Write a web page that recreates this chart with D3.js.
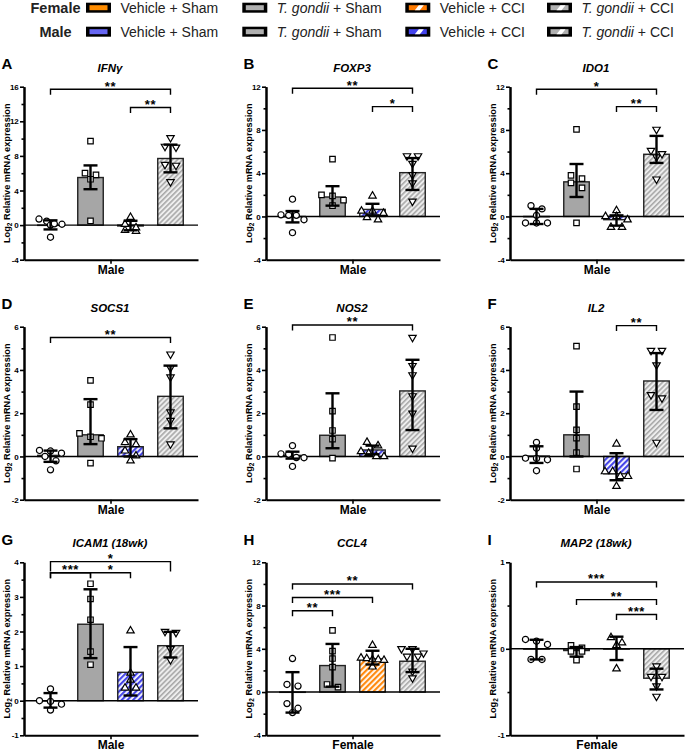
<!DOCTYPE html>
<html><head><meta charset="utf-8">
<script src="https://cdn.jsdelivr.net/npm/d3@7"></script>
<style>body{margin:0;background:#fff} svg{display:block} text{font-family:"Liberation Sans",Arial,sans-serif}</style>
</head><body><svg id="c" width="685" height="752"></svg>
<script>
const groups = ["Vehicle + Sham","T. gondii + Sham","Vehicle + CCI","T. gondii + CCI"];
const letters = ["A","B","C","D","E","F","G","H","I"];
const genes = ["IFNγ","FOXP3","IDO1","SOCS1","NOS2","IL2","ICAM1 (18wk)","CCL4","MAP2 (18wk)"];
const sexes = ["Male","Male","Male","Male","Male","Male","Male","Female","Female"];
const yDomains = [[-4,16],[-4,12],[-4,12],[-2,6],[-2,6],[-2,6],[-1,4],[-4,12],[-1,1]];
const yTickSteps = [4,4,4,2,2,2,1,4,1];
const means = [
  [0.0, 5.5, -0.1, 7.7],
  [0.0, 1.8, 0.65, 4.05],
  [0.0, 3.2, -0.3, 5.75],
  [0.05, 1.0, 0.45, 2.78],
  [0.05, 0.98, 0.3, 3.03],
  [0.02, 1.0, -0.8, 3.49],
  [0.0, 2.21, 0.82, 1.59],
  [0.0, 2.45, 3.07, 2.85],
  [0.0, -0.02, 0.0, -0.34]
];
const errLo = [
  [-0.5, 4.15, -0.6, 6.1],
  [-0.55, 1.0, 0.1, 2.45],
  [-0.7, 1.8, -0.85, 4.95],
  [-0.25, 0.57, 0.0, 1.3],
  [-0.1, 0.38, 0.1, 1.22],
  [-0.3, 0.0, -1.1, 2.15],
  [-0.2, 1.23, 0.15, 1.25],
  [-1.9, 0.5, 2.55, 1.85],
  [-0.123, -0.09, -0.13, -0.47]
];
const errHi = [
  [0.55, 6.9, 0.5, 9.3],
  [0.5, 2.8, 1.17, 5.4],
  [0.7, 4.85, 0.1, 7.45],
  [0.27, 2.65, 0.8, 4.2],
  [0.22, 2.92, 0.5, 4.47],
  [0.47, 3.0, 0.15, 4.78],
  [0.22, 3.22, 1.55, 1.99],
  [1.84, 4.45, 3.82, 4.0],
  [0.104, 0.02, 0.14, -0.23]
];
const points = [
  [[0.45, 0.7, 0.0, -1.4, 0.15, 0.1],[9.7, 6.0, 5.8, 5.3, 0.5],[-0.7, 0.9, -0.6, 0.1, -0.3],[10.1, 9.1, 9.0, 7.0, 6.9, 5.0]],
  [[1.6, 0.1, 0.15, -1.5, -0.3, 0.1],[5.3, 2.0, 1.9, 1.5, 1.0],[1.9, -0.3, -0.1, 0.3, 0.5, 0.5],[5.6, 5.6, 4.9, 3.85, 3.1, 1.4]],
  [[1.0, 0.7, -0.6, -0.6, -0.6, 0.1],[8.05, 3.8, 3.5, 3.1, 2.65, -0.6],[0.55, -1.0, -1.0, -0.3, 0.0, 0.0],[8.05, 6.1, 5.5, 3.45, 5.8]],
  [[0.28, 0.25, 0.15, 0.0, -0.2, -0.62],[3.52, 2.4, 1.07, 0.91, 0.84, -0.31],[1.0, 0.65, 0.55, 0.26, 0.03, -0.2],[4.73, 4.1, 3.67, 2.05, 1.66, 0.57]],
  [[0.5, 0.12, 0.1, -0.06, -0.05, -0.46],[5.5, 2.1, 1.2, 0.8, -0.08],[0.66, 0.5, 0.23, 0.15, 0.0, 0.0],[5.5, 4.2, 3.77, 2.8, 2.0, 0.38]],
  [[0.65, 0.38, -0.08, -0.09, -0.15, -0.66],[5.1, 2.3, 1.23, 0.85, 0.18, -0.58],[0.58, -0.7, -0.7, -0.92, -0.92, -1.38],[4.9, 4.9, 4.23, 2.85, 2.7, 0.65]],
  [[0.34, 0.0, -0.02, -0.1, -0.27],[3.38, 2.94, 2.34, 1.42, 1.04],[2.02, 0.8, 0.6, 0.37, 0.37],[2.0, 1.97, 1.5, 1.18]],
  [[3.1, 0.7, 0.55, -1.07, -1.5, -1.9],[5.7, 3.78, 3.1, 2.3, 0.7, 0.46],[4.33, 3.16, 3.1, 3.0, 3.0, 2.95, 2.33],[4.0, 4.0, 3.6, 3.3, 3.3, 1.93, 1.3]],
  [[0.108, 0.088, 0.05, -0.123, -0.123],[0.04, 0.01, -0.03, -0.03, -0.13],[0.13, 0.07, 0.04, -0.23],[-0.2, -0.32, -0.32, -0.43, -0.55]]
];
// significance brackets: from group, to group, level (data units), label; optional label span and tick
const brackets = [
  [{a:0,b:3,lv:15.7,t:"**"},{a:2,b:3,lv:13.6,t:"**"}],
  [{a:0,b:3,lv:11.86,t:"**"},{a:2,b:3,lv:10.16,t:"*"}],
  [{a:0,b:3,lv:11.76,t:"*"},{a:2,b:3,lv:10.16,t:"**"}],
  [{a:0,b:3,lv:5.5,t:"**"}],
  [{a:0,b:3,lv:6.08,t:"**"}],
  [{a:2,b:3,lv:6.05,t:"**"}],
  [{a:0,b:3,lv:4.02,t:"*",tick:10},{a:0,b:1,lv:3.7,t:"***"},{a:0,b:2,lv:3.7,t:"*",ta:1,tb:2}],
  [{a:0,b:3,lv:10.0,t:"**"},{a:0,b:2,lv:8.74,t:"***"},{a:0,b:1,lv:7.52,t:"**"}],
  [{a:0,b:3,lv:0.773,t:"***"},{a:1,b:3,lv:0.569,t:"**"},{a:2,b:3,lv:0.396,t:"***"}]
];

// ---- layout ----
const FONT = "Liberation Sans, Arial, sans-serif";
const colX = [24, 266, 510];
const rowTop = [86.7, 326.7, 562.3];
const plotH = 173, plotW = 174, barW = 25.5;

const svg = d3.select("#c");
svg.append("rect").attr("width",685).attr("height",752).attr("fill","#fff");
const defs = svg.append("defs");
function hatch(id, bg, fg, w, period){
  const p = defs.append("pattern").attr("id",id).attr("patternUnits","userSpaceOnUse")
    .attr("width",period).attr("height",period).attr("patternTransform","rotate(45)");
  p.append("rect").attr("width",period).attr("height",period).attr("fill",bg);
  p.append("rect").attr("width",w).attr("height",period).attr("fill",fg);
}
hatch("hBlue","#ffffff","#4646e8",2.2,4);
hatch("hOrange","#ffffff","#ff8a10",2.2,4);
hatch("hGray","#eeeeee","#a9a9a9",1.6,3.6);
const fills = {
  Male: ["#6666f2","#a6a6a6","url(#hBlue)","url(#hGray)"],
  Female: ["#ff8c00","#a6a6a6","url(#hOrange)","url(#hGray)"]
};
const legendSolid = {Male:["#6666f2","#b0b0b0","#4444ee","#b0b0b0"], Female:["#ff8c00","#b0b0b0","#ff7a00","#b0b0b0"]};
const symbols = [
  d3.symbol().type(d3.symbolCircle).size(30),
  d3.symbol().type(d3.symbolSquare).size(30),
  d3.symbol().type(d3.symbolTriangle).size(24),
  d3.symbol().type(d3.symbolTriangle).size(24)
];

function swarm(vals, y){
  const idx = vals.map((v,k)=>k).sort((p,q)=>vals[q]-vals[p]);
  const rows=[]; let cur=null;
  idx.forEach(k=>{
    const py=y(vals[k]);
    if(cur && py-cur.y0<5.5) cur.items.push(k); else {cur={y0:py,items:[k]}; rows.push(cur);}
  });
  const off=new Array(vals.length).fill(0);
  rows.forEach(r=>{const n=r.items.length; const st=n>1?Math.min(11,23/(n-1)):0;
    r.items.forEach((k,m)=>off[k]=(m-(n-1)/2)*st);});
  return off;
}

letters.forEach((L,i)=>{
  const col=i%3, row=Math.floor(i/3);
  const x0=colX[col], top=rowTop[row], bot=top+plotH;
  const sex=sexes[i];
  const y=d3.scaleLinear().domain(yDomains[i]).range([bot,top]);
  const x=d3.scalePoint().domain(d3.range(4)).range([x0+26.5,x0+146.5]);
  const g=svg.append("g");

  g.selectAll("rect.bar").data(means[i]).join("rect").attr("class","bar")
    .attr("x",(d,j)=>x(j)-barW/2).attr("width",barW)
    .attr("y",d=>Math.min(y(d),y(0))).attr("height",d=>Math.max(0.3,Math.abs(y(d)-y(0))))
    .attr("fill",(d,j)=>fills[sex][j]).attr("stroke","#222").attr("stroke-width",1.4);

  g.append("line").attr("x1",x0).attr("x2",x0+plotW).attr("y1",y(0)).attr("y2",y(0))
    .attr("stroke","#000").attr("stroke-width",1.4);

  points[i].forEach((vals,j)=>{
    const off=swarm(vals,y);
    g.selectAll(null).data(vals).join("path")
      .attr("d",symbols[j])
      .attr("transform",(d,k)=>`translate(${x(j)+off[k]},${y(d)})`+(j===3?" rotate(180)":""))
      .attr("fill","#fff").attr("stroke","#000").attr("stroke-width",1.2);
  });

  const eb=g.selectAll("g.eb").data(d3.range(4)).join("g").attr("class","eb")
    .attr("stroke","#000").attr("stroke-width",2.4);
  eb.append("line").attr("x1",j=>x(j)).attr("x2",j=>x(j)).attr("y1",j=>y(errLo[i][j])).attr("y2",j=>y(errHi[i][j]));
  eb.append("line").attr("x1",j=>x(j)-7).attr("x2",j=>x(j)+7).attr("y1",j=>y(errLo[i][j])).attr("y2",j=>y(errLo[i][j]));
  eb.append("line").attr("x1",j=>x(j)-7).attr("x2",j=>x(j)+7).attr("y1",j=>y(errHi[i][j])).attr("y2",j=>y(errHi[i][j]));

  brackets[i].forEach(b=>{
    const ly=y(b.lv), tk=b.tick||5.5;
    g.append("path").attr("d",`M${x(b.a)},${ly+tk}V${ly}H${x(b.b)}V${ly+tk}`)
      .attr("fill","none").attr("stroke","#000").attr("stroke-width",1.4);
    if(b.ta!==undefined)
      g.append("line").attr("x1",x(b.ta)).attr("x2",x(b.ta)).attr("y1",ly).attr("y2",ly+tk).attr("stroke","#000").attr("stroke-width",1.4);
    const ta=b.ta!==undefined?b.ta:b.a, tb=b.tb!==undefined?b.tb:b.b;
    g.append("text").attr("x",(x(ta)+x(tb))/2).attr("y",ly+1.5).attr("text-anchor","middle")
      .attr("font-size",13).attr("font-weight","bold").attr("letter-spacing",0.6).text(b.t);
  });

  const [d0,d1]=yDomains[i], st=yTickSteps[i];
  const major=d3.range(d0,d1+1e-9,st), minor=d3.range(d0+st/2,d1,st);
  const ym=g.append("g").attr("transform",`translate(${x0},0)`)
    .call(d3.axisLeft(y).tickValues(minor).tickSize(2.5).tickFormat("").tickSizeOuter(0));
  const ya=g.append("g").attr("transform",`translate(${x0},0)`)
    .call(d3.axisLeft(y).tickValues(major).tickSize(4).tickPadding(1.2).tickSizeOuter(0).tickFormat(d=>String(d)));
  [ym,ya].forEach(a=>{a.select(".domain").attr("stroke-width",2);a.selectAll(".tick line").attr("stroke-width",1.6);});
  ya.selectAll("text").attr("font-size",8).attr("font-weight","bold").attr("font-family",FONT).attr("fill","#000");
  const xb=d3.scaleBand().domain([sex]).range([x0,x0+plotW]);
  const xa=g.append("g").attr("transform",`translate(0,${bot})`)
    .call(d3.axisBottom(xb).tickSize(4).tickPadding(1.5).tickSizeOuter(0));
  xa.select(".domain").attr("stroke-width",2);
  xa.selectAll(".tick line").attr("stroke-width",1.6);
  xa.selectAll("text").attr("font-size",12).attr("font-weight","bold").attr("font-family",FONT).attr("fill","#000");

  const yl=g.append("text").attr("transform",`translate(${x0-14},${(top+bot)/2}) rotate(-90)`)
    .attr("text-anchor","middle").attr("font-size",9.2).attr("font-weight","bold");
  yl.append("tspan").text("Log");
  yl.append("tspan").attr("font-size",6.5).attr("dy",2).text("2");
  yl.append("tspan").attr("dy",-2).text(" Relative mRNA expression");

  g.append("text").attr("x",x0+86).attr("y",top-15).attr("text-anchor","middle")
    .attr("font-size",11.5).attr("font-weight","bold").attr("font-style","italic").text(genes[i]);
  g.append("text").attr("x",x0-22.5).attr("y",top-17.5)
    .attr("font-size",15).attr("font-weight","bold").text(L);
});

const legRows=[{sex:"Female",cy:7.7},{sex:"Male",cy:31.7}];
const swX=[86,242.3,405.3,547];
legRows.forEach(r=>{
  const lg=svg.append("g");
  lg.append("text").attr("x",55.5).attr("y",r.cy+5.2).attr("text-anchor","middle")
    .attr("font-size",14.5).attr("font-weight","bold").attr("fill","#222").text(r.sex);
  groups.forEach((gname,j)=>{
    const sx=swX[j];
    lg.append("rect").attr("x",sx).attr("y",r.cy-5).attr("width",25).attr("height",10).attr("fill","#000");
    const ix=sx+3.5, iy=r.cy-2.5, iw=18, ih=5;
    lg.append("rect").attr("x",ix).attr("y",iy).attr("width",iw).attr("height",ih).attr("fill",legendSolid[r.sex][j]);
    if(j>=2){
      lg.append("polygon").attr("points",[[ix+6,iy+ih],[ix+10,iy],[ix+15,iy],[ix+11,iy+ih]].join(" ")).attr("fill","#fff");
    }
    const t=lg.append("text").attr("x",sx+34.5).attr("y",r.cy+5).attr("font-size",14).attr("fill","#222");
    if(gname.startsWith("T. gondii")){
      t.append("tspan").attr("font-style","italic").text("T. gondii");
      t.append("tspan").text(gname.slice(9));
    } else t.text(gname);
  });
});
</script></body></html>
